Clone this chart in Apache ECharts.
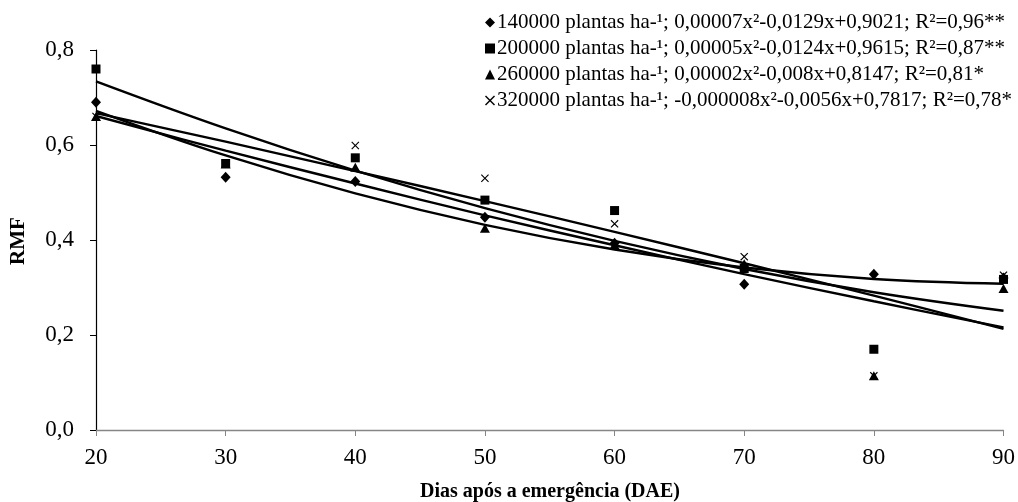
<!DOCTYPE html>
<html><head><meta charset="utf-8">
<script src="https://cdn.jsdelivr.net/npm/echarts@6/dist/echarts.min.js"></script>
<style>html,body{margin:0;padding:0;background:#fff}#c{width:1018px;height:502px}</style>
</head><body><div id="c"></div>
<script>
// ---- data ----
const days = [20, 30, 40, 50, 60, 70, 80, 90];
const seriesNames = [
  '140000 plantas ha-¹; 0,00007x²-0,0129x+0,9021; R²=0,96**',
  '200000 plantas ha-¹; 0,00005x²-0,0124x+0,9615; R²=0,87**',
  '260000 plantas ha-¹; 0,00002x²-0,008x+0,8147; R²=0,81*',
  '320000 plantas ha-¹; -0,000008x²-0,0056x+0,7817; R²=0,78*'
];
// observed points
const obs140 = [0.690, 0.532, 0.523, 0.448, 0.393, 0.307, 0.328, 0.320];
const obs200 = [0.760, 0.561, 0.573, 0.484, 0.462, 0.340, 0.170, 0.317];
const obs260 = [0.660, 0.560, 0.553, 0.425, 0.390, 0.350, 0.114, 0.298];
const obs320 = [0.660, 0.560, 0.599, 0.530, 0.434, 0.365, 0.114, 0.326];
// trend curves
const fit140 = [0.672, 0.578, 0.498, 0.432, 0.380, 0.342, 0.318, 0.308];
const fit200 = [0.734, 0.635, 0.546, 0.467, 0.398, 0.339, 0.290, 0.251];
const fit260 = [0.661, 0.588, 0.519, 0.452, 0.389, 0.328, 0.271, 0.216];
const fit320 = [0.667, 0.607, 0.545, 0.482, 0.417, 0.351, 0.283, 0.213];
const yTicks = [0, 0.2, 0.4, 0.6, 0.8];

const font = "'Liberation Serif', 'Times New Roman', serif";
const pair = arr => days.map((d, i) => [d, arr[i]]);
const xSym = 'path://M0,1L1,0L5,4L9,0L10,1L6,5L10,9L9,10L5,6L1,10L0,9L4,5Z';

const obs = [obs140, obs200, obs260, obs320];
const fits = [fit140, fit200, fit260, fit320];
const symbols = ['diamond', 'rect', 'triangle', xSym];
const sizes = [[10, 11], 9, [10, 9], 8];
const zs = [3, 5, 4, 6];

const series = [];
fits.forEach((f, i) => {
  series.push({
    name: 'fit' + i, type: 'line', data: pair(f), smooth: 0.4,
    showSymbol: false, symbol: 'none', silent: true, z: 2,
    lineStyle: { color: '#000', width: 2.4 }
  });
});
obs.forEach((o, i) => {
  series.push({
    name: seriesNames[i], type: 'scatter', data: pair(o),
    symbol: symbols[i], symbolSize: sizes[i], z: zs[i],
    itemStyle: { color: '#000', opacity: 1 }
  });
});

const chart = echarts.init(document.getElementById('c'), null, { renderer: 'canvas' });
chart.setOption({
  animation: false,
  backgroundColor: '#fff',
  grid: { left: 96, right: 11, top: 50, bottom: 72, containLabel: false },
  legend: {
    data: seriesNames,
    orient: 'vertical', left: 480, top: 7, itemGap: 5,
    itemWidth: 10, itemHeight: 10, selectedMode: false,
    textStyle: { fontFamily: font, fontSize: 21, color: '#000', lineHeight: 21, padding: [0, 0, 0, -3] }
  },
  xAxis: {
    type: 'value', min: 20, max: 90, interval: 10,
    axisLine: { lineStyle: { color: '#868686', width: 1.3 } },
    axisTick: { show: true, length: 6, inside: false, lineStyle: { color: '#868686' } },
    axisLabel: { margin: 16, fontFamily: font, fontSize: 23, color: '#000' },
    splitLine: { show: false }
  },
  yAxis: {
    type: 'value', min: yTicks[0], max: yTicks[yTicks.length - 1], interval: 0.2,
    axisLine: { show: true, lineStyle: { color: '#000', width: 1.2 } },
    axisTick: { show: true, length: 6, lineStyle: { color: '#000' } },
    axisLabel: { margin: 22, fontFamily: font, fontSize: 23, color: '#000',
      formatter: v => v.toFixed(1).replace('.', ',') },
    splitLine: { show: false }
  },
  graphic: [
    { type: 'text', x: 550, y: 492, style: { text: 'Dias após a emergência (DAE)', fontFamily: font,
      fontSize: 20, fontWeight: 'bold', fill: '#000', align: 'center', verticalAlign: 'middle' } },
    { type: 'text', x: 19, y: 241, rotation: Math.PI / 2, style: { text: 'RMF', fontFamily: font,
      fontSize: 21, fontWeight: 'bold', fill: '#000', align: 'center', verticalAlign: 'middle' } }
  ],
  series: series
});
</script></body></html>
